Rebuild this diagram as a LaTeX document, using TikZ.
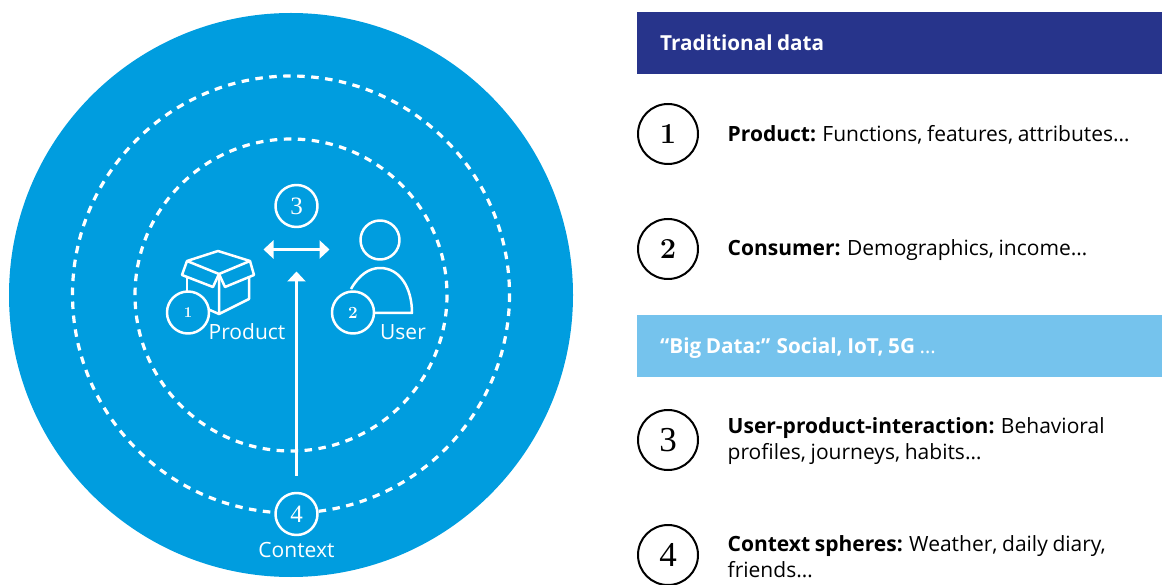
\documentclass[tikz,border=0pt]{standalone}
\usepackage{fontspec}
\newfontfamily\notosans[WordSpace=0.85]{Open Sans}
\newfontfamily\numserif{Liberation Serif}
\usetikzlibrary{positioning,arrows.meta}
\definecolor{skyblue}{HTML}{009DDF}
\definecolor{navybar}{HTML}{27348B}
\definecolor{lightbar}{HTML}{75C3ED}

\begin{document}
\begin{tikzpicture}[x=1pt, y=-1pt, line join=round,
    ring/.style = {draw=white, line width=3.2pt, dash pattern=on 7.5pt off 6.5pt},
    icon/.style = {draw=white, line width=2.5pt},
    arrow/.style = {draw=white, line width=2.8pt, -{Triangle[width=18pt,length=10pt]}},
    twoway/.style = {draw=white, line width=2.8pt, {Triangle[width=18pt,length=10pt]}-{Triangle[width=18pt,length=10pt]}},
    num/.style = {draw=white, circle, line width=2.5pt, fill=skyblue, minimum size=42pt, inner sep=0pt, text=white, font=\numserif\fontsize{25}{25}\selectfont},
    tag/.style = {text=white, inner sep=0pt, font=\notosans\fontsize{21}{27}\selectfont},
    bar/.style = {minimum width=525pt, minimum height=62pt, anchor=west, inner sep=0pt},
    bartext/.style = {text=white, inner sep=0pt, anchor=west, font=\notosans\bfseries\fontsize{20.7}{27}\selectfont},
    key/.style = {draw=black, circle, line width=2pt, minimum size=60pt, inner sep=0pt, font=\numserif\fontsize{35}{35}\selectfont},
    info/.style = {inner sep=0pt, align=left, font=\notosans\fontsize{21}{26}\selectfont}]

\useasboundingbox (0,0) rectangle (1162,585);

\fill[skyblue] (291,295) circle (282);
\draw[ring] (291,294.5) circle (218.5);
\draw[ring] (291,295) circle (156);

\draw[icon] (380,240) circle (19.5);
\draw[icon] (351,289) .. controls (359,275) and (369,268) .. (380,268) .. controls (400,268) and (412,288) .. (412,313) -- (370,313);

\draw[icon] (218,251) -- (250,261) -- (219,274) -- (187,261) -- cycle;
\draw[icon] (187,261) -- (182,275) -- (213,287) -- (219,274) -- (225,287) -- (254,275) -- (250,261);
\draw[icon] (187,276) -- (187,300);
\draw[icon] (219,274) -- (219,314) -- (249,299) -- (249,278);
\draw[icon] (187,300) -- (219,314);

\node[num, font=\bfseries\fontsize{15}{15}\selectfont] (prod) at (188,312.5) {1};
\node[num, font=\bfseries\fontsize{17}{17}\selectfont] (user) at (353,312.5) {2};
\node[num] (inter) at (296.5,206) {3};
\node[num] (ctx) at (296.5,514) {4};

\node[tag] (prodlabel) at (247,332) {Product};
\node[tag] (userlabel) at (403,332) {User};
\node[tag] (ctxlabel) at (296.5,550) {Context};

\coordinate (left) at (263.5,249.5);
\coordinate (right) at (329.5,249.5);
\coordinate (top) at (296.5,271.5);
\draw[twoway] (left) -- (right);
\draw[arrow, shorten <=16pt] (ctx) -- (top);

\node[bar, fill=navybar] (trad) at (637,43) {};
\node[bartext] (tradtext) at (660,43) {Traditional data};
\node[bar, fill=lightbar] (big) at (637,346) {};
\node[bartext] (bigtext) at (660,348) {“Big Data:” Social, IoT, 5G \textmd{…}};

\node[key, font=\bfseries\fontsize{29}{29}\selectfont] (k1) at (668,134) {1};
\node[key, font=\bfseries\fontsize{29}{29}\selectfont] (k2) at (668,249) {2};
\node[key] (k3) at (668,440) {3};
\node[key] (k4) at (668,555) {4};

\node[info, right=28.5pt of k1, yshift=-1pt] (t1) {\textbf{Product:} Functions, features, attributes…};
\node[info, right=28.5pt of k2, yshift=-1pt] (t2) {\textbf{Consumer:} Demographics, income…};
\node[info, right=28.5pt of k3, yshift=-1.5pt] (t3) {\textbf{User-product-interaction:} Behavioral\\profiles, journeys, habits…};
\node[info, right=28.5pt of k4, yshift=-1.5pt] (t4) {\textbf{Context spheres:} Weather, daily diary,\\friends…};

\end{tikzpicture}
\end{document}
